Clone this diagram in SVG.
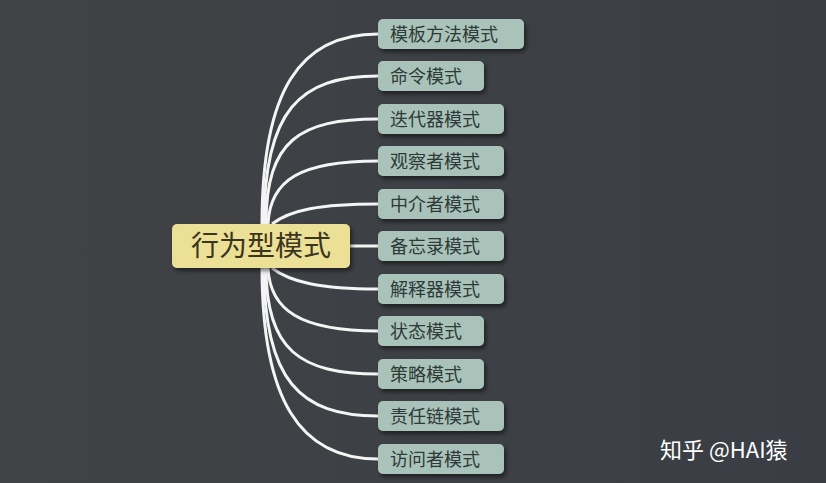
<svg xmlns="http://www.w3.org/2000/svg" width="826" height="483" viewBox="0 0 826 483">
<defs>
<linearGradient id="bg" x1="0" y1="0" x2="1" y2="0"><stop offset="0" stop-color="#404245"/><stop offset="1" stop-color="#3a3e44"/></linearGradient>
<filter id="sh" x="-10%" y="-20%" width="130%" height="160%"><feDropShadow dx="2" dy="3" stdDeviation="2" flood-color="#000" flood-opacity="0.5"/></filter>
</defs>
<style>
.c{fill:#a9c3bb;filter:url(#sh)}
.t{font-family:"Noto Sans CJK SC",sans-serif;font-size:18px;fill:#2e3a36}
.l{fill:none;stroke:#f4f4f4;stroke-width:3}
</style>
<rect width="826" height="483" fill="url(#bg)"/>
<g id="connectors">
<path class="l" d="M262,224 C262,90 300,34 378,34"/>
<path class="l" d="M264,224 C264,110 300,76 378,76"/>
<path class="l" d="M266,224 C266,140 300,119 378,119"/>
<path class="l" d="M268,224 C270,180 300,161 378,161"/>
<path class="l" d="M272,224 C290,210 320,204 378,204"/>
<path class="l" d="M350,246 L378,246"/>
<path class="l" d="M272,268 C290,282 320,289 378,289"/>
<path class="l" d="M268,268 C270,310 300,331 378,331"/>
<path class="l" d="M266,268 C266,350 300,374 378,374"/>
<path class="l" d="M264,268 C264,380 300,416 378,416"/>
<path class="l" d="M262,268 C262,400 300,459 378,459"/>
</g>
<g id="root"><rect x="172" y="224" width="178" height="44" rx="5" fill="#ecdf96" filter="url(#sh)"/><text x="261" y="256" text-anchor="middle" font-family="Noto Sans CJK SC,sans-serif" font-size="28" fill="#3a3520">行为型模式</text></g>
<g id="n1"><rect class="c" x="378" y="19" width="146" height="30" rx="5"/><text class="t" x="390" y="41">模板方法模式</text></g>
<g id="n2"><rect class="c" x="378" y="61" width="106" height="30" rx="5"/><text class="t" x="390" y="83">命令模式</text></g>
<g id="n3"><rect class="c" x="378" y="104" width="126" height="30" rx="5"/><text class="t" x="390" y="126">迭代器模式</text></g>
<g id="n4"><rect class="c" x="378" y="146" width="126" height="30" rx="5"/><text class="t" x="390" y="168">观察者模式</text></g>
<g id="n5"><rect class="c" x="378" y="189" width="126" height="30" rx="5"/><text class="t" x="390" y="211">中介者模式</text></g>
<g id="n6"><rect class="c" x="378" y="231" width="126" height="30" rx="5"/><text class="t" x="390" y="253">备忘录模式</text></g>
<g id="n7"><rect class="c" x="378" y="274" width="126" height="30" rx="5"/><text class="t" x="390" y="296">解释器模式</text></g>
<g id="n8"><rect class="c" x="378" y="316" width="106" height="30" rx="5"/><text class="t" x="390" y="338">状态模式</text></g>
<g id="n9"><rect class="c" x="378" y="359" width="106" height="30" rx="5"/><text class="t" x="390" y="381">策略模式</text></g>
<g id="n10"><rect class="c" x="378" y="401" width="126" height="30" rx="5"/><text class="t" x="390" y="423">责任链模式</text></g>
<g id="n11"><rect class="c" x="378" y="444" width="126" height="30" rx="5"/><text class="t" x="390" y="466">访问者模式</text></g>
<text x="660" y="458" font-family="Noto Sans CJK SC,sans-serif" font-size="22" fill="#ffffff">知乎 @HAI猿</text>
</svg>
